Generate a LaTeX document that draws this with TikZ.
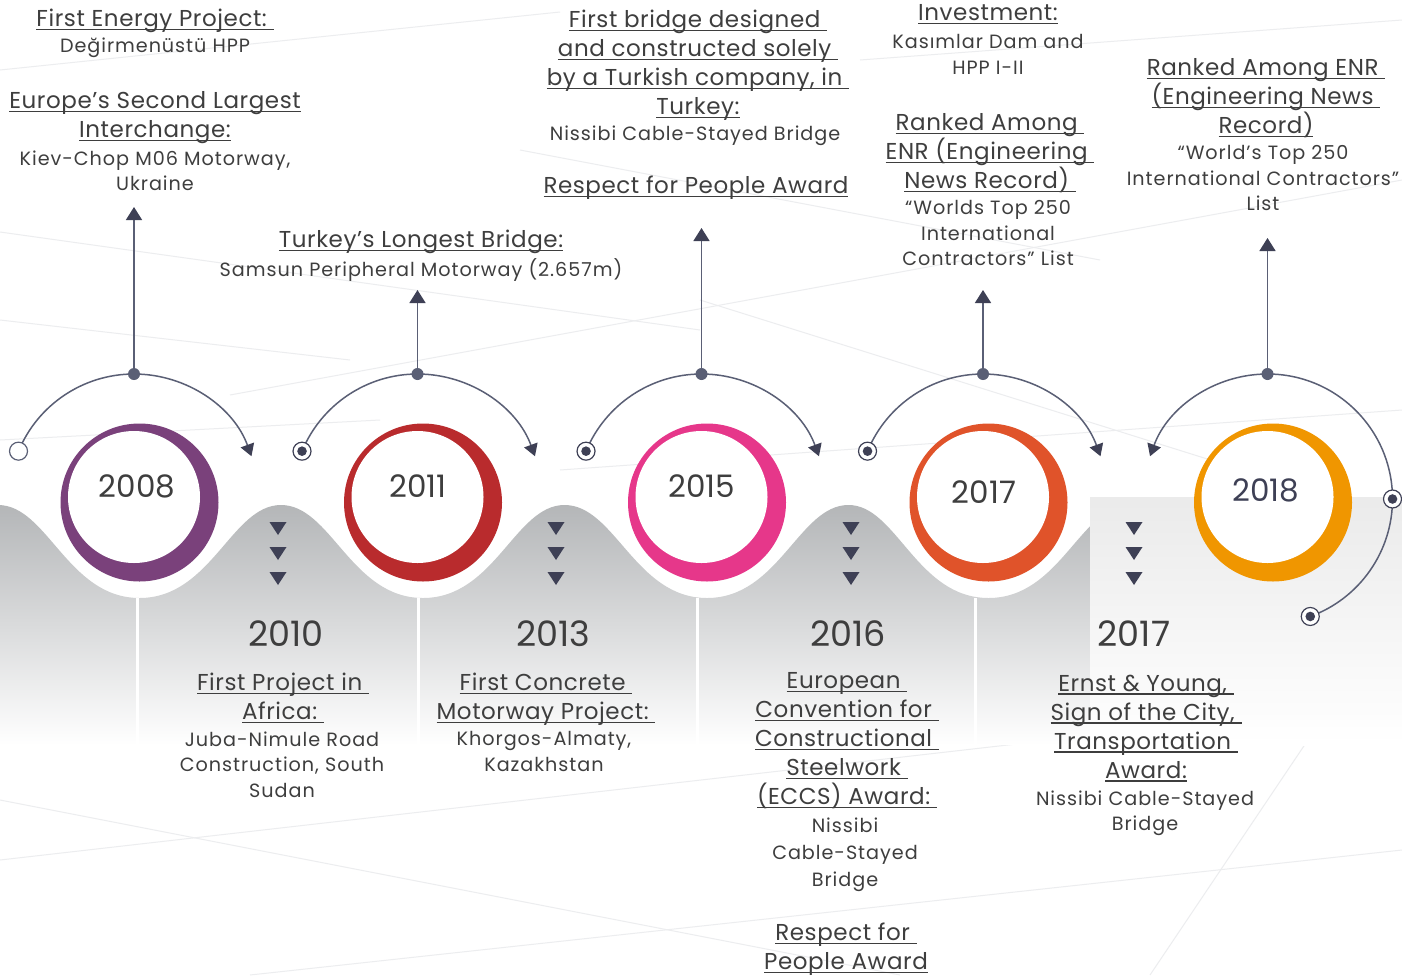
\documentclass[tikz,border=0pt]{standalone}
\usepackage{fontspec}
\setmainfont{Poppins}
\newfontfamily\headfont{Poppins}[LetterSpace=2.5]
\newfontfamily\bodyfont{Poppins}[LetterSpace=5]
\usetikzlibrary{arrows.meta,positioning}

\definecolor{txtgray}{HTML}{3E3E3E}
\definecolor{navy}{HTML}{3E4055}
\definecolor{arcgray}{HTML}{5A5F75}
\definecolor{bandgray}{RGB}{180,182,184}
\definecolor{netgray}{RGB}{236,237,239}
\definecolor{c2008}{HTML}{7A417B}
\definecolor{c2011}{HTML}{B92B2D}
\definecolor{c2015}{HTML}{E6378A}
\definecolor{c2017}{HTML}{E0532A}
\definecolor{c2018}{HTML}{F09600}

% underlined heading line
\newsavebox\undlbox
\newcommand\undl[1]{\sbox\undlbox{#1}\rlap{\rule[-1.7pt]{\wd\undlbox}{0.6pt}}\usebox\undlbox}

\begin{document}
\begin{tikzpicture}[
    x=0.5pt, y=0.5pt,
    headtxt/.style={anchor=north, inner sep=0pt, align=center, text=txtgray, font=\headfont\fontsize{11.5}{14.5}\selectfont},
    bodytxt/.style={anchor=north, inner sep=0pt, align=center, text=txtgray, font=\bodyfont\fontsize{9.6}{12.75}\selectfont},
    yearin/.style={inner sep=0pt, text=txtgray, font=\fontsize{15.5}{18}\selectfont},
    yearout/.style={inner sep=0pt, text=txtgray, font=\fontsize{17.5}{20}\selectfont},
    hubdot/.style={circle, fill=arcgray, minimum size=6pt, inner sep=0pt},
    openmark/.style={circle, draw=arcgray, fill=white, line width=0.6pt, minimum size=9pt, inner sep=0pt},
    ringmark/.style={openmark, draw=navy, path picture={\fill[navy] (path picture bounding box.center) circle[radius=2.4pt];}},
    arcline/.style={draw=arcgray, line width=0.75pt},
    arcarrow/.style={arcline, -{Triangle[length=6pt, width=7pt, color=navy]}},
    upline/.style={arcline, -{Triangle[length=6.5pt, width=8pt, color=navy]}},
    netline/.style={draw=netgray, line width=0.5pt}
]
\useasboundingbox (0,0) rectangle (1402,-975);
\fill[white] (0,0) rectangle (1402,-975);

% faint background network
\foreach \xa/\ya/\xb/\yb in {0/70/560/12, 0/232/700/330, 230/395/1402/180, 0/440/380/420,
    560/470/1402/410, 0/860/1402/700, 250/975/1402/850, 0/800/900/975, 1150/975/1402/600,
    700/300/1402/520, 0/320/350/360, 860/60/1402/20, 520/150/1100/260, 0/610/300/700}
  \draw[netline] (\xa,-\ya) -- (\xb,-\yb);

% grey wave band
\shade[top color=bandgray, bottom color=white] (-2,-505)
  \foreach \c in {139.5,423,707,988.5}{
    .. controls (\c-92,-505) and (\c-72,-598) .. (\c,-598)
    .. controls (\c+72,-598) and (\c+92,-505) .. (\c+141.5,-505) }
  -- (1130,-745) -- (-2,-745) -- cycle;
\shade[top color=black!8, bottom color=white] (1090,-497) rectangle (1402,-745);
\foreach \x in {137,418,697,975}
  \draw[white, line width=1.5pt] (\x,-598) -- (\x,-745);

% year rings
\foreach \cx/\col in {139.5/c2008, 423/c2011, 707/c2015, 988.5/c2017, 1273/c2018}{
  \fill[\col] (\cx,-502.5) circle[radius=79];
  \fill[white] (\cx-5.5,-497) circle[radius=66];
}
\node[yearin] (y2008) at (137,-486) {2008};
\node[yearin] (y2011) at (418,-486) {2011};
\node[yearin] (y2015) at (702,-486) {2015};
\node[yearin] (y2017) at (984,-492) {2017};
\node[yearin, text=navy] (y2018) at (1266,-490) {2018};

% hubs and arrow tops
\foreach \i/\cx/\ty in {1/134/207, 2/417.5/290, 3/701.5/228, 4/983/290, 5/1267.5/238}{
  \coordinate (h\i) at (\cx,-374);
  \coordinate (t\i) at (\cx,-\ty);
}

% connectors
\foreach \i in {1,...,5}
  \draw[upline] (h\i) -- (t\i);
\draw[arcline] (h1) arc[start angle=90, end angle=157.5, radius=125] node[openmark] (ml1) {};
\foreach \i in {2,3,4}
  \draw[arcline] (h\i) arc[start angle=90, end angle=157.5, radius=125] node[ringmark] (ml\i) {};
\foreach \i in {1,...,4}
  \draw[arcarrow] (h\i) arc[start angle=90, end angle=20, radius=125];
\draw[arcarrow] (h5) arc[start angle=90, end angle=160, radius=125];
\draw[arcline] (h5) arc[start angle=90, end angle=0, radius=125] node[ringmark] (mr5) {}
  arc[start angle=0, end angle=-70, radius=125] node[ringmark] (mb5) {};
\foreach \i in {1,...,5}
  \node[hubdot] (hd\i) at (h\i) {};

% down markers
\foreach \x in {278,556,851,1134}
  \foreach \y in {528,553,578}
    \fill[navy] (\x-8.5,-\y+6) -- (\x+8.5,-\y+6) -- (\x,-\y-7) -- cycle;

% upper texts
\node[headtxt] (a1h) at (155,-8.5) {\undl{First Energy Project:\ }};
\node[bodytxt] (a1b) at (155,-37) {Değirmenüstü HPP};
\node[headtxt] (a2h) at (155,-91.5) {\undl{Europe’s Second Largest}\\\undl{Interchange:}};
\node[bodytxt] (a2b) at (155,-150) {Kiev-Chop M06 Motorway,\\Ukraine};
\node[headtxt] (bh) at (421,-229.5) {\undl{Turkey’s Longest Bridge:}};
\node[bodytxt] (bb) at (421,-258) {Samsun Peripheral Motorway (2.657m)};
\node[headtxt] (c1h) at (698,-9.5) {\undl{First bridge designed\ }\\\undl{and constructed solely\ }\\\undl{by a Turkish company, in\ }\\\undl{Turkey:}};
\node[bodytxt] (c1b) at (695,-125) {Nissibi Cable-Stayed Bridge};
\node[headtxt] (c2h) at (696,-175.5) {\undl{Respect for People Award}};
\node[headtxt] (d1h) at (988,-4.5) {\undl{Investment:}};
\node[bodytxt] (d1b) at (988,-34) {Kasımlar Dam and\\HPP I-II};
\node[headtxt] (d2h) at (990,-113.5) {\undl{Ranked Among\ }\\\undl{ENR (Engineering\ }\\\undl{News Record)\ }};
\node[bodytxt] (d2b) at (988,-200) {“Worlds Top 250\\International\\Contractors” List};
\node[headtxt] (eh) at (1266,-58.5) {\undl{Ranked Among ENR\ }\\\undl{(Engineering News\ }\\\undl{Record)}};
\node[bodytxt] (eb) at (1263,-145) {“World’s Top 250\\International Contractors”\\List};

% lower texts
\node[yearout] (y2010) at (286,-634) {2010};
\node[yearout] (y2013) at (553,-634) {2013};
\node[yearout] (y2016) at (848,-634) {2016};
\node[yearout] (y2017b) at (1134,-634) {2017};
\node[headtxt] (fh) at (283,-672.5) {\undl{First Project in\ }\\\undl{Africa:\ }};
\node[bodytxt] (fb) at (282,-731) {Juba-Nimule Road\\Construction, South\\Sudan};
\node[headtxt] (gh) at (546,-672.5) {\undl{First Concrete\ }\\\undl{Motorway Project:\ }};
\node[bodytxt] (gb) at (544,-731) {Khorgos-Almaty,\\Kazakhstan};
\node[headtxt] (hh) at (847,-672.5) {\undl{European\ }\\\undl{Convention for\ }\\\undl{Constructional\ }\\\undl{Steelwork\ }\\\undl{(ECCS) Award:\ }};
\node[bodytxt, font=\bodyfont\fontsize{9.6}{13.5}\selectfont] (hb) at (845,-817) {Nissibi\\Cable-Stayed\\Bridge};
\node[headtxt] (h2h) at (846,-922.5) {\undl{Respect for\ }\\\undl{People Award}};
\node[headtxt] (ih) at (1146,-674.5) {\undl{Ernst \& Young,\ }\\\undl{Sign of the City,\ }\\\undl{Transportation\ }\\\undl{Award:}};
\node[bodytxt] (ib) at (1145,-790) {Nissibi Cable-Stayed\\Bridge};

\end{tikzpicture}
\end{document}
